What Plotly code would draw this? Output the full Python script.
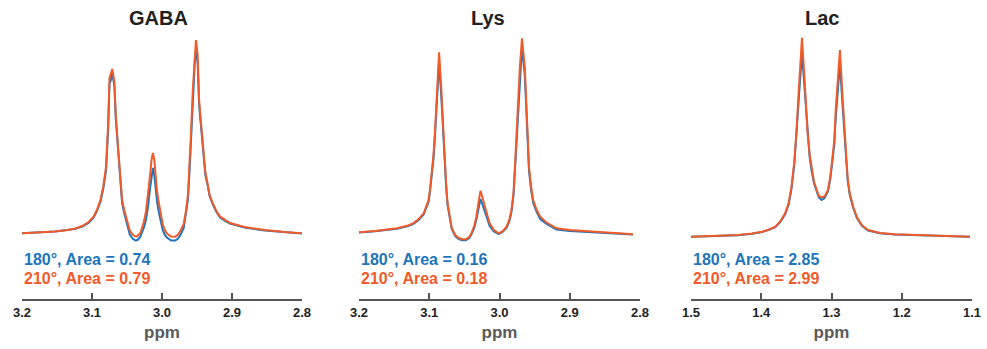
import plotly.graph_objects as go

# ---------------- data (arbitrary intensity units) ----------------
gaba_ppm = [3.200, 3.174, 3.153, 3.135, 3.124, 3.114, 3.105, 3.098, 3.093, 3.088,
            3.084, 3.080, 3.077, 3.075, 3.073, 3.071, 3.068, 3.066, 3.063, 3.061,
            3.059, 3.057, 3.054, 3.051, 3.048, 3.046, 3.042, 3.038, 3.035, 3.031,
            3.029, 3.026, 3.023, 3.020, 3.017, 3.015, 3.013, 3.011, 3.009, 3.007,
            3.004, 3.001, 2.999, 2.996, 2.993, 2.987, 2.981, 2.977, 2.973, 2.969,
            2.966, 2.963, 2.961, 2.959, 2.956, 2.953, 2.9515, 2.949, 2.947, 2.944,
            2.942, 2.940, 2.938, 2.934, 2.932, 2.927, 2.923, 2.917, 2.910, 2.903,
            2.882, 2.853, 2.825, 2.800]
gaba_210 = [-0.3, 0.5, 1.5, 3, 4.5, 7, 11, 16, 23, 33,
            46, 66, 108, 155, 159, 164, 151, 118, 88, 66,
            48, 33, 23, 16, 8, 2.5, -1.5, -3.5, -3, 0,
            4, 11, 21, 37, 58, 73, 80, 73, 58, 41,
            28, 18, 9, 3, -0.5, -3.5, -3.7, -1.5, 3, 9,
            21, 38, 63, 93, 143, 183, 193, 178, 133, 108,
            93, 75, 60, 46, 38, 29, 23, 16.3, 13, 10,
            6, 3, 1, -0.3]
gaba_180 = [-0.3, 0.5, 1.5, 3, 4.3, 6.5, 10, 15, 22, 31,
            44, 62, 102, 149, 153, 160, 147, 114, 85, 63,
            45, 30, 20, 12, 4, -1.5, -5.5, -7.5, -7, -4,
            0, 5, 13, 26, 45, 58, 65, 58, 45, 31,
            19, 10, 3, -2, -4.5, -7.5, -7.5, -5.5, -1, 5,
            17, 33, 57, 87, 135, 173, 183, 169, 128, 104,
            90, 73, 58, 45, 37, 28, 22, 15.5, 12, 9.5,
            5.5, 2.5, 0.7, -0.5]

lys_ppm = [3.206, 3.177, 3.146, 3.130, 3.123, 3.115, 3.108, 3.105, 3.101, 3.099,
           3.097, 3.094, 3.092, 3.089, 3.086, 3.083, 3.080, 3.078, 3.076, 3.074,
           3.071, 3.068, 3.063, 3.058, 3.053, 3.048, 3.043, 3.040, 3.036, 3.033,
           3.030, 3.027, 3.024, 3.021, 3.017, 3.014, 3.008, 3.001, 2.995, 2.990,
           2.986, 2.983, 2.980, 2.978, 2.975, 2.971, 2.968, 2.964, 2.961, 2.958,
           2.955, 2.952, 2.947, 2.942, 2.934, 2.919, 2.900, 2.885, 2.857, 2.810]
lys_210 = [0.3, 2, 4.7, 7.5, 9.7, 14, 19.7, 25, 33, 43,
           56.3, 78, 99.7, 146.3, 180.7, 146.3, 99.7, 73, 49.7, 30,
           16.3, 5, -2, -5, -6.3, -6.3, -4, -0.3, 7, 16.3,
           30, 42.3, 35, 26.3, 17, 9.7, 3, -0.3, 2, 6.3,
           13, 23, 41, 66.3, 116.3, 166.3, 194.7, 166.3, 116.3, 66.3,
           46, 33, 23, 16.3, 11, 4.7, 3, 2.3, 0.5, -1.3]
lys_180 = [0.2, 1.8, 4.3, 7, 9, 13, 18.5, 23.5, 31, 41,
           53, 74, 95, 138, 171.3, 138, 95, 70, 47, 28,
           15, 4, -3, -6, -7.3, -7.3, -5, -1.5, 5, 13,
           24, 34, 28, 21, 13.5, 7, 1.5, -1, 1.5, 5,
           11.5, 21, 38, 62, 110, 158, 186.3, 158, 110, 62,
           43, 30, 21, 14, 9.5, 3.5, 2, 1.5, 0, -1.5]

lac_ppm = [1.501, 1.466, 1.433, 1.413, 1.399, 1.389, 1.380, 1.373, 1.366, 1.361,
           1.357, 1.353, 1.350, 1.346, 1.342, 1.338, 1.334, 1.331, 1.328, 1.325,
           1.321, 1.318, 1.314, 1.310, 1.305, 1.302, 1.299, 1.296, 1.294, 1.288,
           1.284, 1.280, 1.277, 1.274, 1.269, 1.264, 1.257, 1.248, 1.231, 1.210,
           1.160, 1.103]
lac_210 = [-3.7, -3, -2, -0.5, 1.3, 3.5, 6.3, 11.5, 19.7, 30,
           46.3, 71, 99.7, 149.7, 195.3, 149.7, 99.7, 78, 63, 51.5,
           43, 37, 35.5, 36.5, 43, 55, 73, 93, 123, 183,
           133, 83, 55, 39.7, 26, 16.3, 8, 3, 0, -1.3,
           -2.7, -3.7]
lac_180 = [-3.8, -3.1, -2.2, -0.7, 1, 3.1, 5.8, 10.8, 18.7, 28.5,
           44, 68, 95, 140, 179.7, 140, 96, 75, 61, 50,
           41.5, 35.5, 33, 35, 41.5, 53, 70, 89, 115, 169.7,
           125, 79, 52.5, 38, 25, 15.3, 7.5, 2.5, -0.3, -1.5,
           -2.9, -3.8]

titles = ["GABA", "Lys", "Lac"]
label_180 = ["180°, Area = 0.74", "180°, Area = 0.16", "180°, Area = 2.85"]
label_210 = ["210°, Area = 0.79", "210°, Area = 0.18", "210°, Area = 2.99"]
x_ranges = [[3.2, 2.8], [3.2, 2.8], [1.5, 1.1]]
tick_vals = [[3.2, 3.1, 3.0, 2.9, 2.8], [3.2, 3.1, 3.0, 2.9, 2.8], [1.5, 1.4, 1.3, 1.2, 1.1]]
tick_text = [["3.2", "3.1", "3.0", "2.9", "2.8"], ["3.2", "3.1", "3.0", "2.9", "2.8"],
             ["1.5", "1.4", "1.3", "1.2", "1.1"]]

# ---------------- styling ----------------
W, H = 987, 349
BLUE = "#1c75bc"
ORANGE = "#f15a29"
FONT = "Liberation Sans"
panels_px = [(22, 302), (359, 640), (691, 972)]
title_cx = [158, 488, 822]
plot_top, plot_bot = 30, 299

fig = go.Figure()
spectra = [(gaba_ppm, gaba_180, gaba_210), (lys_ppm, lys_180, lys_210), (lac_ppm, lac_180, lac_210)]

for i, (ppm, s180, s210) in enumerate(spectra):
    sfx = "" if i == 0 else str(i + 1)
    fig.add_trace(go.Scatter(x=ppm, y=s180, mode="lines", line=dict(color=BLUE, width=2),
                             xaxis="x" + sfx, yaxis="y" + sfx, showlegend=False, hoverinfo="skip"))
    fig.add_trace(go.Scatter(x=ppm, y=s210, mode="lines", line=dict(color=ORANGE, width=2),
                             xaxis="x" + sfx, yaxis="y" + sfx, showlegend=False, hoverinfo="skip"))

layout = dict(width=W, height=H, margin=dict(l=0, r=0, t=0, b=0, autoexpand=False),
              paper_bgcolor="white", plot_bgcolor="white", showlegend=False)
ydom = [(H - plot_bot) / H, (H - plot_top) / H]
annotations = []
for i in range(3):
    sfx = "" if i == 0 else str(i + 1)
    x0, x1 = panels_px[i]
    layout["xaxis" + sfx] = dict(
        domain=[x0 / W, x1 / W], range=x_ranges[i], anchor="y" + sfx, automargin=False,
        showgrid=False, zeroline=False, showline=True, linecolor="#555555", linewidth=2,
        ticks="inside", ticklen=6, tickwidth=2, tickcolor="#555555",
        tickvals=tick_vals[i], ticktext=tick_text[i],
        tickfont=dict(family=FONT, size=13, color="#222222", weight="bold"),
        title=dict(text="ppm", font=dict(family=FONT, size=17, color="#5a5a5a", weight="bold"),
                   standoff=8),
    )
    layout["yaxis" + sfx] = dict(domain=ydom, range=[-66, 203], visible=False,
                                 anchor="x" + sfx, automargin=False)
    annotations.append(dict(text="<b>%s</b>" % titles[i], x=title_cx[i] / W, y=(H - 18) / H,
                            xref="paper", yref="paper", xanchor="center", yanchor="middle",
                            showarrow=False, font=dict(family=FONT, size=20, color="#231f20")))
    annotations.append(dict(text="<b>%s</b>" % label_180[i], x=x0 / W, y=(H - 259) / H,
                            xref="paper", yref="paper", xanchor="left", yanchor="middle",
                            showarrow=False, font=dict(family=FONT, size=16, color=BLUE)))
    annotations.append(dict(text="<b>%s</b>" % label_210[i], x=x0 / W, y=(H - 278.5) / H,
                            xref="paper", yref="paper", xanchor="left", yanchor="middle",
                            showarrow=False, font=dict(family=FONT, size=16, color=ORANGE)))
layout["annotations"] = annotations
fig.update_layout(**layout)

fig.write_html("out.html")
